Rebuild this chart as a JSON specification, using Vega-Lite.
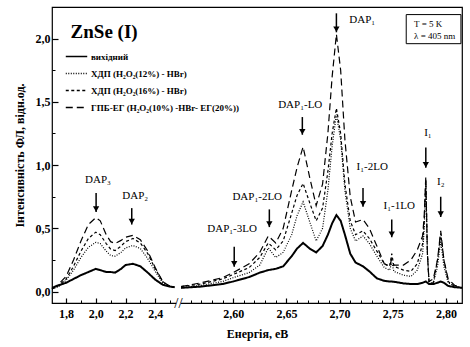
{
  "$schema": "https://vega.github.io/schema/vega-lite/v6.json",
  "width": 410,
  "height": 296,
  "autosize": {"type": "none"},
  "padding": {"left": 52, "top": 7, "right": 8, "bottom": 44},
  "background": "white",
  "config": {
    "view": {"stroke": "black", "strokeWidth": 1.2},
    "font": "Liberation Serif",
    "axis": {"labelFont": "Liberation Serif", "titleFont": "Liberation Serif", "labelFontWeight": "bold", "titleFontWeight": "bold", "labelColor": "black", "titleColor": "black", "tickColor": "black", "domain": false, "grid": false, "labelFontSize": 12, "titleFontSize": 12},
    "legend": {"labelFont": "Liberation Serif", "labelFontWeight": "bold", "labelFontSize": 9, "labelColor": "black"}
  },
  "datasets": {
    "spectra": [
      {"e": 1.705, "a": 0.03, "b": 0.02, "c": 0.02, "d": 0.02, "seg": "L"},
      {"e": 1.75, "a": 0.05, "b": 0.04, "c": 0.05, "d": 0.06, "seg": "L"},
      {"e": 1.8, "a": 0.07, "b": 0.09, "c": 0.1, "d": 0.12, "seg": "L"},
      {"e": 1.85, "a": 0.1, "b": 0.17, "c": 0.2, "d": 0.25, "seg": "L"},
      {"e": 1.9, "a": 0.13, "b": 0.27, "c": 0.32, "d": 0.4, "seg": "L"},
      {"e": 1.95, "a": 0.155, "b": 0.35, "c": 0.42, "d": 0.53, "seg": "L"},
      {"e": 2.0, "a": 0.18, "b": 0.39, "c": 0.47, "d": 0.585, "seg": "L"},
      {"e": 2.03, "a": 0.17, "b": 0.38, "c": 0.45, "d": 0.56, "seg": "L"},
      {"e": 2.07, "a": 0.155, "b": 0.32, "c": 0.38, "d": 0.45, "seg": "L"},
      {"e": 2.1, "a": 0.155, "b": 0.285, "c": 0.335, "d": 0.395, "seg": "L"},
      {"e": 2.13, "a": 0.15, "b": 0.28, "c": 0.325, "d": 0.38, "seg": "L"},
      {"e": 2.17, "a": 0.18, "b": 0.31, "c": 0.36, "d": 0.405, "seg": "L"},
      {"e": 2.2, "a": 0.21, "b": 0.345, "c": 0.395, "d": 0.43, "seg": "L"},
      {"e": 2.25, "a": 0.22, "b": 0.365, "c": 0.42, "d": 0.445, "seg": "L"},
      {"e": 2.3, "a": 0.2, "b": 0.34, "c": 0.385, "d": 0.41, "seg": "L"},
      {"e": 2.35, "a": 0.15, "b": 0.26, "c": 0.3, "d": 0.32, "seg": "L"},
      {"e": 2.4, "a": 0.095, "b": 0.16, "c": 0.18, "d": 0.19, "seg": "L"},
      {"e": 2.45, "a": 0.055, "b": 0.07, "c": 0.08, "d": 0.08, "seg": "L"},
      {"e": 2.5, "a": 0.04, "b": 0.04, "c": 0.04, "d": 0.04, "seg": "L"},
      {"e": 2.53, "a": 0.035, "b": 0.035, "c": 0.035, "d": 0.035, "seg": "L"},
      {"e": 2.551, "a": 0.03, "b": 0.03, "c": 0.04, "d": 0.04, "seg": "R"},
      {"e": 2.57, "a": 0.04, "b": 0.05, "c": 0.06, "d": 0.07, "seg": "R"},
      {"e": 2.59, "a": 0.06, "b": 0.08, "c": 0.1, "d": 0.11, "seg": "R"},
      {"e": 2.6, "a": 0.08, "b": 0.11, "c": 0.135, "d": 0.15, "seg": "R"},
      {"e": 2.615, "a": 0.115, "b": 0.15, "c": 0.19, "d": 0.22, "seg": "R"},
      {"e": 2.625, "a": 0.15, "b": 0.21, "c": 0.27, "d": 0.31, "seg": "R"},
      {"e": 2.633, "a": 0.17, "b": 0.345, "c": 0.385, "d": 0.44, "seg": "R"},
      {"e": 2.64, "a": 0.18, "b": 0.27, "c": 0.33, "d": 0.385, "seg": "R"},
      {"e": 2.647, "a": 0.2, "b": 0.31, "c": 0.4, "d": 0.5, "seg": "R"},
      {"e": 2.655, "a": 0.28, "b": 0.45, "c": 0.62, "d": 0.8, "seg": "R"},
      {"e": 2.66, "a": 0.34, "b": 0.6, "c": 0.76, "d": 0.98, "seg": "R"},
      {"e": 2.6657, "a": 0.385, "b": 0.71, "c": 0.855, "d": 1.145, "seg": "R"},
      {"e": 2.672, "a": 0.34, "b": 0.55, "c": 0.7, "d": 0.9, "seg": "R"},
      {"e": 2.678, "a": 0.31, "b": 0.4, "c": 0.56, "d": 0.68, "seg": "R"},
      {"e": 2.684, "a": 0.36, "b": 0.5, "c": 0.66, "d": 0.85, "seg": "R"},
      {"e": 2.689, "a": 0.45, "b": 0.8, "c": 0.95, "d": 1.25, "seg": "R"},
      {"e": 2.693, "a": 0.54, "b": 1.15, "c": 1.25, "d": 1.7, "seg": "R"},
      {"e": 2.697, "a": 0.605, "b": 1.4, "c": 1.45, "d": 2.035, "seg": "R"},
      {"e": 2.701, "a": 0.56, "b": 1.2, "c": 1.25, "d": 1.75, "seg": "R"},
      {"e": 2.705, "a": 0.45, "b": 0.8, "c": 0.85, "d": 1.2, "seg": "R"},
      {"e": 2.71, "a": 0.3, "b": 0.5, "c": 0.56, "d": 0.75, "seg": "R"},
      {"e": 2.715, "a": 0.23, "b": 0.4, "c": 0.45, "d": 0.55, "seg": "R"},
      {"e": 2.722, "a": 0.2, "b": 0.44, "c": 0.48, "d": 0.57, "seg": "R"},
      {"e": 2.728, "a": 0.16, "b": 0.38, "c": 0.42, "d": 0.5, "seg": "R"},
      {"e": 2.735, "a": 0.105, "b": 0.28, "c": 0.32, "d": 0.36, "seg": "R"},
      {"e": 2.742, "a": 0.085, "b": 0.19, "c": 0.22, "d": 0.22, "seg": "R"},
      {"e": 2.747, "a": 0.08, "b": 0.17, "c": 0.2, "d": 0.2, "seg": "R"},
      {"e": 2.749, "a": 0.08, "b": 0.23, "c": 0.3, "d": 0.26, "seg": "R"},
      {"e": 2.751, "a": 0.078, "b": 0.16, "c": 0.2, "d": 0.21, "seg": "R"},
      {"e": 2.76, "a": 0.065, "b": 0.13, "c": 0.17, "d": 0.21, "seg": "R"},
      {"e": 2.767, "a": 0.06, "b": 0.12, "c": 0.16, "d": 0.25, "seg": "R"},
      {"e": 2.773, "a": 0.06, "b": 0.17, "c": 0.22, "d": 0.33, "seg": "R"},
      {"e": 2.778, "a": 0.07, "b": 0.3, "c": 0.38, "d": 0.44, "seg": "R"},
      {"e": 2.7795, "a": 0.075, "b": 0.5, "c": 0.55, "d": 0.6, "seg": "R"},
      {"e": 2.781, "a": 0.08, "b": 0.85, "c": 0.88, "d": 0.91, "seg": "R"},
      {"e": 2.7825, "a": 0.07, "b": 0.3, "c": 0.3, "d": 0.3, "seg": "R"},
      {"e": 2.784, "a": 0.06, "b": 0.08, "c": 0.08, "d": 0.08, "seg": "R"},
      {"e": 2.788, "a": 0.06, "b": 0.06, "c": 0.07, "d": 0.1, "seg": "R"},
      {"e": 2.792, "a": 0.07, "b": 0.2, "c": 0.25, "d": 0.25, "seg": "R"},
      {"e": 2.795, "a": 0.08, "b": 0.4, "c": 0.46, "d": 0.48, "seg": "R"},
      {"e": 2.798, "a": 0.07, "b": 0.2, "c": 0.25, "d": 0.25, "seg": "R"},
      {"e": 2.802, "a": 0.045, "b": 0.07, "c": 0.08, "d": 0.1, "seg": "R"},
      {"e": 2.808, "a": 0.035, "b": 0.04, "c": 0.04, "d": 0.05, "seg": "R"},
      {"e": 2.815, "a": 0.03, "b": 0.03, "c": 0.03, "d": 0.03, "seg": "R"}
    ],
    "labels": [
      {"x": 2.015, "y": 0.88, "t": "DAP₃"},
      {"x": 2.265, "y": 0.755, "t": "DAP₂"},
      {"x": 2.599, "y": 0.495, "t": "DAP₁-3LO"},
      {"x": 2.6226, "y": 0.748, "t": "DAP₁-2LO"},
      {"x": 2.663, "y": 1.475, "t": "DAP₁-LO"},
      {"x": 2.7212, "y": 2.147, "t": "DAP₁"},
      {"x": 2.7306, "y": 0.985, "t": "I₁-2LO"},
      {"x": 2.756, "y": 0.677, "t": "I₁-1LO"},
      {"x": 2.783, "y": 1.253, "t": "I₁"},
      {"x": 2.795, "y": 0.869, "t": "I₂"}
    ],
    "arrows": [
      {"x": 2.002, "y1": 0.78, "y2": 0.63},
      {"x": 2.242, "y1": 0.66, "y2": 0.53},
      {"x": 2.601, "y1": 0.354, "y2": 0.197},
      {"x": 2.634, "y1": 0.65, "y2": 0.51},
      {"x": 2.665, "y1": 1.38, "y2": 1.24},
      {"x": 2.697, "y1": 2.2, "y2": 2.05},
      {"x": 2.722, "y1": 0.82, "y2": 0.67},
      {"x": 2.749, "y1": 0.57, "y2": 0.43},
      {"x": 2.781, "y1": 1.14, "y2": 0.98},
      {"x": 2.795, "y1": 0.75, "y2": 0.59}
    ]
  },
  "resolve": {"axis": {"x": "independent", "y": "independent"}},
  "layer": [
    {
      "data": {"name": "spectra"},
      "transform": [{"fold": ["a", "b", "c", "d"], "as": ["series", "value"]}],
      "mark": {"type": "line", "color": "black", "strokeCap": "butt"},
      "encoding": {
        "x": {"field": "e", "type": "quantitative", "scale": {"domain": [1.705, 2.54, 2.551, 2.815], "range": [0, 124, 129, 410], "zero": false, "nice": false},
          "axis": {"values": [1.8, 2.0, 2.2, 2.4, 2.6, 2.65, 2.7, 2.75, 2.8], "labelExpr": "datum.value < 2.5 ? replace(format(datum.value, '.1f'), '.', ',') : replace(format(datum.value, '.2f'), '.', ',')", "tickSize": -5, "tickWidth": 1.2, "labelPadding": 10, "title": "Енергія, еВ", "titlePadding": 9, "orient": "bottom"}},
        "y": {"field": "value", "type": "quantitative", "scale": {"domain": [-0.09, 2.25], "zero": false, "nice": false},
          "axis": {"values": [0, 0.5, 1, 1.5, 2], "labelExpr": "replace(format(datum.value, '.1f'), '.', ',')", "tickSize": -6, "tickWidth": 1.2, "labelPadding": 8, "title": "Інтенсивність ФЛ, відн.од.", "titlePadding": 9, "orient": "left"}},
        "detail": {"field": "seg"},
        "strokeDash": {"field": "series", "type": "nominal",
          "scale": {"domain": ["a", "b", "c", "d"], "range": [[1, 0], [1, 1.5], [3, 2.5], [7, 4]]},
          "legend": {"title": null, "orient": "none", "legendX": 13, "legendY": 38, "symbolType": "stroke", "symbolSize": 460, "symbolStrokeColor": "black", "symbolStrokeWidth": 1.3, "rowPadding": 0, "labelOffset": 3,
            "labelExpr": "datum.value == 'a' ? 'вихідний' : datum.value == 'b' ? 'ХДП (H₂O₂(12%) - HBr)' : datum.value == 'c' ? 'ХДП (H₂O₂(16%) - HBr)' : 'ГПБ-ЕГ (H₂O₂(10%) -HBr- ЕГ(20%))'"}},
        "strokeWidth": {"condition": {"test": "datum.series == 'a'", "value": 2}, "value": 1.2}
      }
    },
    {
      "data": {"values": [{"x1": 2.7626, "x2": 2.814, "y1": 1.96, "y2": 2.19}]},
      "mark": {"type": "rect", "fill": "white", "stroke": "black", "strokeWidth": 1},
      "encoding": {
        "x": {"field": "x1", "type": "quantitative", "scale": {"domain": [1.705, 2.54, 2.551, 2.815], "range": [0, 124, 129, 410], "zero": false, "nice": false},
          "axis": {"values": [1.9, 2.1, 2.3, 2.5, 2.56, 2.57, 2.58, 2.59, 2.61, 2.62, 2.63, 2.64, 2.66, 2.67, 2.68, 2.69, 2.71, 2.72, 2.73, 2.74, 2.76, 2.77, 2.78, 2.79, 2.81], "labels": false, "tickSize": -3, "tickWidth": 1, "title": null, "orient": "bottom"}},
        "x2": {"field": "x2"},
        "y": {"field": "y1", "type": "quantitative", "scale": {"domain": [-0.09, 2.25], "zero": false, "nice": false},
          "axis": {"values": [0.25, 0.75, 1.25, 1.75], "labels": false, "tickSize": -3, "tickWidth": 1, "title": null, "orient": "left"}},
        "y2": {"field": "y2"}
      }
    },
    {
      "data": {"values": [{"x": 2.77, "y": 2.115, "t": "T = 5 K"}, {"x": 2.77, "y": 2.02, "t": "λ = 405 nm"}]},
      "mark": {"type": "text", "align": "left", "baseline": "middle", "fontSize": 9, "font": "Liberation Serif", "color": "black"},
      "encoding": {
        "x": {"field": "x", "type": "quantitative", "axis": null},
        "y": {"field": "y", "type": "quantitative", "axis": null},
        "text": {"field": "t"}
      }
    },
    {
      "data": {"name": "arrows"},
      "mark": {"type": "rule", "color": "black", "strokeWidth": 1.5},
      "encoding": {
        "x": {"field": "x", "type": "quantitative", "axis": null},
        "y": {"field": "y1", "type": "quantitative", "axis": null},
        "y2": {"field": "y2"}
      }
    },
    {
      "data": {"name": "arrows"},
      "mark": {"type": "point", "shape": "triangle-down", "filled": true, "color": "black", "size": 40, "opacity": 1, "yOffset": -3},
      "encoding": {
        "x": {"field": "x", "type": "quantitative", "axis": null},
        "y": {"field": "y2", "type": "quantitative", "axis": null}
      }
    },
    {
      "data": {"name": "labels"},
      "mark": {"type": "text", "align": "center", "baseline": "middle", "fontSize": 11, "font": "Liberation Serif", "color": "black"},
      "encoding": {
        "x": {"field": "x", "type": "quantitative", "axis": null},
        "y": {"field": "y", "type": "quantitative", "axis": null},
        "text": {"field": "t"}
      }
    },
    {
      "data": {"values": [{"x": 2.056, "y": 2.055, "t": "ZnSe (I)"}]},
      "mark": {"type": "text", "align": "center", "baseline": "middle", "fontSize": 19, "fontWeight": "bold", "font": "Liberation Serif", "color": "black"},
      "encoding": {
        "x": {"field": "x", "type": "quantitative", "axis": null},
        "y": {"field": "y", "type": "quantitative", "axis": null},
        "text": {"field": "t"}
      }
    },
    {
      "data": {"values": [{"x1": 2.5405, "x2": 2.5505, "y1": -0.12, "y2": -0.06}]},
      "mark": {"type": "rect", "fill": "white"},
      "encoding": {
        "x": {"field": "x1", "type": "quantitative", "axis": null},
        "x2": {"field": "x2"},
        "y": {"field": "y1", "type": "quantitative", "axis": null},
        "y2": {"field": "y2"}
      }
    },
    {
      "data": {"values": [{"x": 2.5455, "y": -0.09, "t": "//"}]},
      "mark": {"type": "text", "align": "center", "baseline": "middle", "fontSize": 15, "font": "Liberation Serif", "color": "black"},
      "encoding": {
        "x": {"field": "x", "type": "quantitative", "axis": null},
        "y": {"field": "y", "type": "quantitative", "axis": null},
        "text": {"field": "t"}
      }
    }
  ]
}
